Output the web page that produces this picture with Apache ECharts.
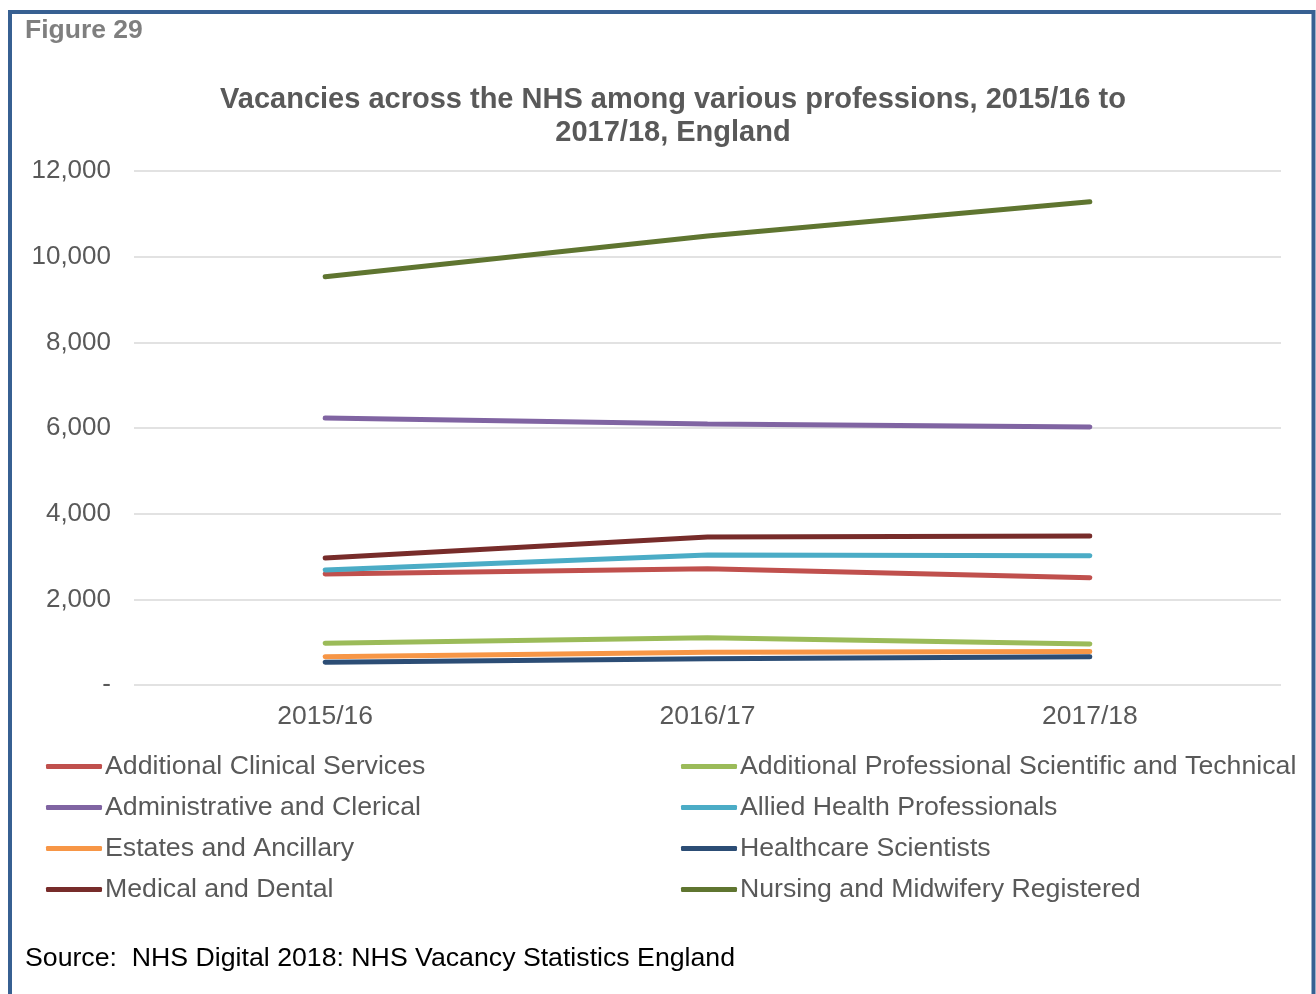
<!DOCTYPE html>
<html>
<head>
<meta charset="utf-8">
<script src="https://cdn.jsdelivr.net/npm/echarts@6/dist/echarts.min.js"></script>
<style>
  html, body { margin: 0; padding: 0; background: #fff; }
  #chart { width: 1316px; height: 994px; }
</style>
</head>
<body>
<div id="chart"></div>
<script>
// data
const years = ['2015/16', '2016/17', '2017/18']
const additionalClinical = [2590, 2715, 2505]
const administrative = [6235, 6095, 6025]
const estates = [660, 765, 780]
const medical = [2965, 3455, 3480]
const additionalProf = [975, 1105, 960]
const allied = [2685, 3035, 3020]
const healthcareSci = [530, 615, 660]
const nursing = [9530, 10480, 11280]
const yTicks = [0, 2000, 4000, 6000, 8000, 10000, 12000]

const seriesDefs = [
    {name: 'Additional Clinical Services', data: additionalClinical, color: '#C0504D'},
    {name: 'Administrative and Clerical', data: administrative, color: '#8064A2'},
    {name: 'Estates and Ancillary', data: estates, color: '#F79646'},
    {name: 'Medical and Dental', data: medical, color: '#772C2A'},
    {name: 'Additional Professional Scientific and Technical', data: additionalProf, color: '#9BBB59'},
    {name: 'Allied Health Professionals', data: allied, color: '#4BACC6'},
    {name: 'Healthcare Scientists', data: healthcareSci, color: '#2C4D75'},
    {name: 'Nursing and Midwifery Registered', data: nursing, color: '#5F7530'}
]

const font = '"Liberation Sans", Arial, sans-serif'
const grey = '#595959'

const legendBase = {
    orient: 'vertical',
    top: 748,
    itemGap: 14,
    itemWidth: 56,
    itemHeight: 5,
    icon: 'roundRect',
    textStyle: {fontFamily: font, fontSize: 26.7, color: grey, padding: [0, 0, 0, -2]}
}

const chart = echarts.init(document.getElementById('chart'), null, {renderer: 'canvas'})
const option = {
    animation: false,
    backgroundColor: '#fff',
    title: {
        text: 'Vacancies across the NHS among various professions, 2015/16 to\n2017/18, England',
        left: 668,
        textAlign: 'center',
        top: 78,
        textStyle: {fontFamily: font, fontSize: 29, fontWeight: 'bold', color: grey, lineHeight: 33}
    },
    grid: {left: 134, right: 35, top: 171, bottom: 309, containLabel: false},
    xAxis: {
        type: 'category',
        data: years,
        boundaryGap: true,
        axisLine: {show: false},
        axisTick: {show: false},
        axisLabel: {fontFamily: font, fontSize: 26.5, color: grey, margin: 18}
    },
    yAxis: {
        type: 'value',
        min: yTicks[0],
        max: yTicks[yTicks.length - 1],
        interval: 2000,
        axisLine: {show: false},
        axisTick: {show: false},
        splitLine: {lineStyle: {color: '#d9d9d9', width: 1.5}},
        axisLabel: {
            fontFamily: font, fontSize: 26, color: grey, margin: 23,
            formatter: v => v === 0 ? '-' : v.toLocaleString('en-GB')
        }
    },
    legend: [
        Object.assign({}, legendBase, {left: 41, data: seriesDefs.slice(0, 4).map(s => s.name)}),
        Object.assign({}, legendBase, {left: 676, data: seriesDefs.slice(4).map(s => s.name)})
    ],
    graphic: [
        {
            type: 'rect',
            shape: {x: 10, y: 12, width: 1303.5, height: 1100},
            style: {fill: null, stroke: '#376092', lineWidth: 4},
            silent: true
        },
        {
            type: 'text',
            left: 25, top: 17,
            style: {text: 'Figure 29', font: 'bold 26.5px ' + font, fill: '#7f7f7f'}
        },
        {
            type: 'text',
            left: 25, top: 945,
            style: {text: 'Source:  NHS Digital 2018: NHS Vacancy Statistics England', font: '26.7px ' + font, fill: '#000'}
        }
    ],
    series: seriesDefs.map(s => ({
        name: s.name,
        type: 'line',
        data: s.data,
        symbol: 'none',
        color: s.color,
        lineStyle: {width: 5, color: s.color, cap: 'round'}
    }))
}
chart.setOption(option)
</script>
</body>
</html>
